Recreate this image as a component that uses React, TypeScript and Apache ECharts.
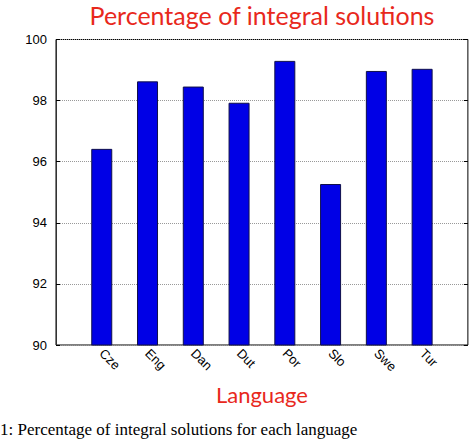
import React, { useEffect, useRef } from "react";
import * as echarts from "echarts";

const languages = ["Cze", "Eng", "Dan", "Dut", "Por", "Slo", "Swe", "Tur"];
const integralPct = [96.42, 98.63, 98.46, 97.93, 99.3, 95.27, 98.97, 99.04];
const yTicks = { min: 90, max: 100, interval: 2 };

const RED = "#e8281c";

const App: React.FC = () => {
  const chartRef = useRef<HTMLDivElement>(null);

  useEffect(() => {
    if (!chartRef.current) return;
    const chart = echarts.init(chartRef.current, undefined, { renderer: "svg" });

    // empty slots at both ends, like gnuplot's xrange [0:9]
    const cats = ["", ...languages, ""];

    chart.setOption({
      animation: false,
      title: {
        text: "Percentage of integral solutions",
        left: 262,
        top: 2,
        padding: 0,
        textAlign: "center",
        textStyle: {
          color: RED,
          fontFamily: "Lato",
          fontWeight: "normal",
          fontSize: 25,
        },
      },
      grid: {
        left: 56,
        right: 1,
        top: 39.5,
        bottom: 95,
        show: true,
        borderColor: "#000",
        borderWidth: 1,
        backgroundColor: "transparent",
      },
      xAxis: {
        type: "category",
        data: cats,
        boundaryGap: false,
        axisLine: { show: false },
        axisTick: { show: false },
        splitLine: { show: false },
        axisLabel: {
          interval: 0,
          rotate: -45,
          margin: 6,
          color: "#000",
          fontFamily: "Liberation Sans",
          fontSize: 13,
        },
        name: "Language",
        nameLocation: "middle",
        nameGap: 38,
        nameTextStyle: {
          color: RED,
          fontFamily: "Lato",
          fontSize: 22,
        },
      },
      yAxis: [
        {
          type: "value",
          ...yTicks,
          axisLine: { show: true, lineStyle: { color: "#333" } },
          axisTick: { show: true, inside: true, length: 4, lineStyle: { color: "#000" } },
          splitLine: { show: true, lineStyle: { color: "#999", type: "dotted", width: 1 } },
          axisLabel: {
            color: "#000",
            fontFamily: "Liberation Sans",
            fontSize: 13,
            margin: 9,
          },
        },
        {
          type: "value",
          ...yTicks,
          position: "right",
          axisLine: { show: false },
          axisTick: { show: true, inside: true, length: 4, lineStyle: { color: "#000" } },
          splitLine: { show: false },
          axisLabel: { show: false },
        },
      ],
      graphic: [
        {
          type: "text",
          left: 0,
          top: 421,
          style: {
            text: "1: Percentage of integral solutions for each language",
            fill: "#000",
            font: '17px "Liberation Serif"',
          },
        },
      ],
      series: [
        {
          type: "bar",
          barWidth: 21,
          data: languages.map((l, i) => [l, integralPct[i]]),
          itemStyle: {
            color: "#0000e6",
            borderColor: "#10104a",
            borderWidth: 1,
          },
        },
      ],
    });

    return () => {
      chart.dispose();
    };
  }, []);

  return (
    <div
      ref={chartRef}
      style={{ position: "absolute", left: 0, top: 0, width: 470, height: 440 }}
    />
  );
};

export default App;
